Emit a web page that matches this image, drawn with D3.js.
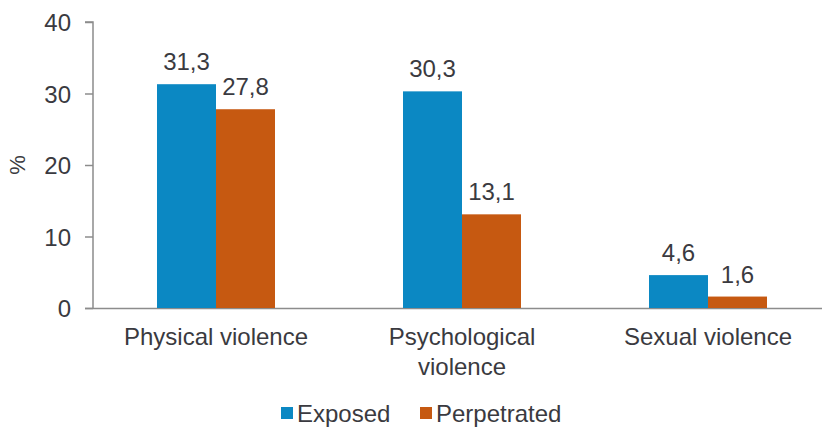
<!DOCTYPE html>
<html><head><meta charset="utf-8">
<script src="https://cdn.jsdelivr.net/npm/d3@7"></script>
<style>body{margin:0;background:#fff}svg{display:block}text{font-family:"Liberation Sans",Arial,sans-serif;fill:#3a3a40}</style>
</head><body><svg id="c" width="822" height="428"></svg>
<script>
const categories = [["Physical violence"], ["Psychological", "violence"], ["Sexual violence"]];
const seriesNames = ["Exposed", "Perpetrated"];
const exposed = [31.3, 30.3, 4.6];
const perpetrated = [27.8, 13.1, 1.6];
const yTicks = [0, 10, 20, 30, 40];
const colors = ["#0b88c3", "#c65911"];

const svg = d3.select("#c");
const x0 = 93, y0 = 308, yTop = 22;
const band = 246;
const x = d3.scaleBand().domain(d3.range(3)).range([x0, x0 + 3 * band]).paddingInner(0).paddingOuter(0);
const xs = d3.scaleBand().domain(d3.range(2)).range([0, 118]);
const y = d3.scaleLinear().domain([0, 40]).range([y0, yTop]);
const FS = "24px";

// y axis
const ya = svg.append("g").attr("transform", `translate(${x0},0)`)
  .call(d3.axisLeft(y).tickValues(yTicks).tickSize(8).tickPadding(14).tickFormat(d3.format("d")));
ya.select(".domain").attr("stroke", "#8c8c8c").attr("stroke-width", 1.5).attr("d", `M-8,${yTop}H0V${y0}`);
ya.selectAll(".tick line").attr("stroke", "#8c8c8c").attr("stroke-width", 1.5);
ya.selectAll(".tick text").style("font-size", FS).attr("fill", "#3a3a40").attr("dy", "0.36em");

// x axis baseline
svg.append("line").attr("x1", x0 - 8).attr("x2", 822).attr("y1", y0 + 0.5).attr("y2", y0 + 0.5)
  .attr("stroke", "#8c8c8c").attr("stroke-width", 1.5);

svg.append("text").attr("transform", `translate(25,${y(20)}) rotate(-90)`).attr("text-anchor", "middle")
  .style("font-size", "22px").text("%");

const data = categories.map((c, i) => ({c, i, vals: [exposed[i], perpetrated[i]]}));
const g = svg.selectAll("g.cat").data(data).join("g").attr("class", "cat")
  .attr("transform", d => `translate(${x(d.i) + x.bandwidth() / 2 - 59},0)`);
g.selectAll("rect").data(d => d.vals).join("rect")
  .attr("x", (v, j) => xs(j)).attr("width", xs.bandwidth())
  .attr("y", v => y(v)).attr("height", v => y0 - y(v))
  .attr("fill", (v, j) => colors[j]);
g.selectAll("text.val").data(d => d.vals).join("text").attr("class", "val")
  .attr("x", (v, j) => xs(j) + xs.bandwidth() / 2).attr("y", v => y(v) - 14)
  .attr("text-anchor", "middle").style("font-size", FS)
  .text(v => d3.format(".1f")(v).replace(".", ","));

// category labels
svg.selectAll("text.cat").data(data).join("text").attr("class", "cat")
  .attr("text-anchor", "middle").style("font-size", FS)
  .attr("transform", d => `translate(${x(d.i) + x.bandwidth() / 2},${y0 + 37})`)
  .selectAll("tspan").data(d => d.c).join("tspan")
  .attr("x", 0).attr("dy", (t, k) => k === 0 ? 0 : 30).text(t => t);

// legend
const legX = [281, 420];
const lg = svg.selectAll("g.leg").data(seriesNames).join("g").attr("class", "leg")
  .attr("transform", (d, i) => `translate(${legX[i]},413)`);
lg.append("rect").attr("x", 0).attr("y", -6).attr("width", 12).attr("height", 12).attr("fill", (d, i) => colors[i]);
lg.append("text").attr("x", 16).attr("y", 0).attr("dy", "0.36em").style("font-size", FS).text(d => d);
</script></body></html>
